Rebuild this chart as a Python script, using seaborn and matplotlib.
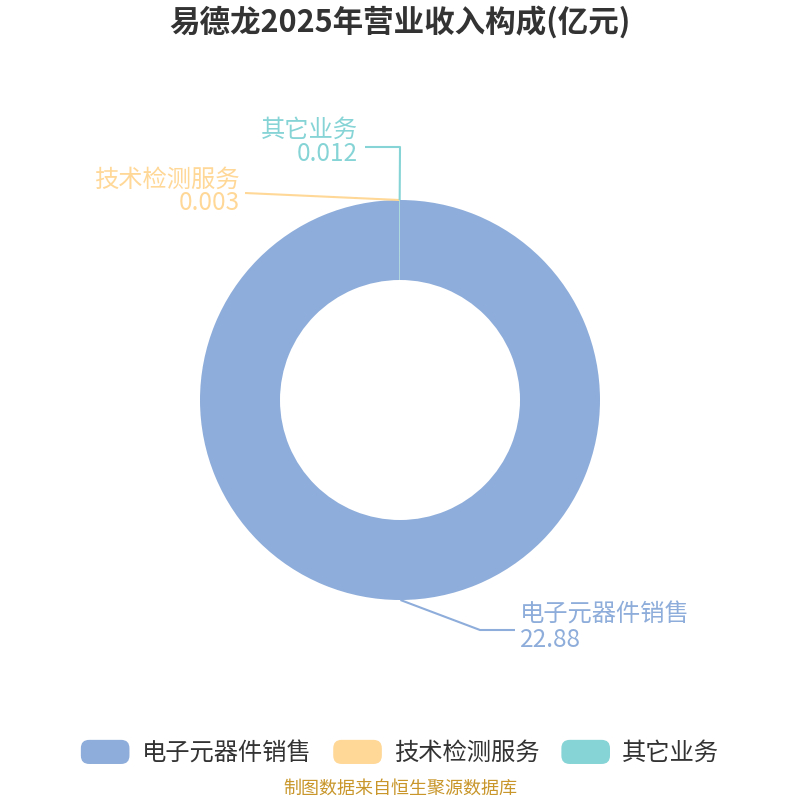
import matplotlib
matplotlib.use("Agg")
import matplotlib.pyplot as plt
import seaborn as sns
from matplotlib.patches import FancyBboxPatch, Patch
from matplotlib.legend_handler import HandlerPatch
import numpy as np

title = "易德龙2025年营业收入构成(亿元)"
categories = ["电子元器件销售", "技术检测服务", "其它业务"]
values = [22.88, 0.003, 0.012]
value_labels = ["22.88", "0.003", "0.012"]
colors_hex = ["#8EADDA", "#FFD898", "#86D4D6"]
source = "制图数据来自恒生聚源数据库"

sns.set_theme(style="white")
plt.rcParams['font.family'] = ['Noto Sans CJK SC', 'DejaVu Sans']
palette = sns.color_palette(colors_hex)

fig = plt.figure(figsize=(8, 8), dpi=100)
ax = fig.add_axes([0, 0, 1, 1])

wedges, _ = ax.pie(values, colors=palette, startangle=90, counterclock=False,
                   radius=1.0, wedgeprops=dict(width=0.4, linewidth=0))
ax.set_xlim(-2, 2)
ax.set_ylim(-2, 2)
ax.set_aspect("equal")
ax.axis("off")

# label layout per slice
layout = [
    dict(path=[(0.4, -1.15), (0.575, -1.15)], tx=0.6, ha="left", ny=-1.075, vy=-1.2),
    dict(path=[(-0.775, 1.035)], tx=-0.8, ha="right", ny=1.1, vy=0.985),
    dict(path=[(0.0, 1.265), (-0.175, 1.265)], tx=-0.21, ha="right", ny=1.35, vy=1.23),
]
for w, lab, val, col, lay in zip(wedges, categories, value_labels, palette, layout):
    th = np.deg2rad((w.theta1 + w.theta2) / 2)
    pts = [(np.cos(th), np.sin(th))] + lay["path"]
    xs, ys = zip(*pts)
    ax.plot(xs, ys, color=col, lw=1.5, solid_capstyle="butt")
    ax.text(lay["tx"], lay["ny"], lab, color=col, fontsize=17.5, ha=lay["ha"], va="center")
    ax.text(lay["tx"], lay["vy"], val, color=col, fontsize=17.5, ha=lay["ha"], va="center")

fig.text(0.5, 1 - 22 / 800, title, ha="center", va="center", fontsize=22,
         fontweight="bold", color="#333333")


class RoundHandler(HandlerPatch):
    def create_artists(self, legend, orig_handle, xdescent, ydescent, width, height, fontsize, trans):
        p = FancyBboxPatch((-xdescent, -ydescent), width, height,
                           boxstyle="round,pad=0,rounding_size=6",
                           facecolor=orig_handle.get_facecolor(), edgecolor="none",
                           transform=trans)
        return [p]


handles = [Patch(facecolor=c) for c in palette]
leg = fig.legend(handles, categories, loc="center", bbox_to_anchor=(0.5, 1 - 753 / 800),
                 ncol=3, frameon=False, fontsize=17.5, handlelength=2.0, handleheight=1.15,
                 handletextpad=0.5, columnspacing=0.9, borderpad=0,
                 handler_map={Patch: RoundHandler()})
for t in leg.get_texts():
    t.set_color("#333333")

fig.text(0.5, 1 - 789 / 800, source, ha="center", va="center", fontsize=13,
         color="#C8962A")

fig.savefig("out.png", dpi=100)
